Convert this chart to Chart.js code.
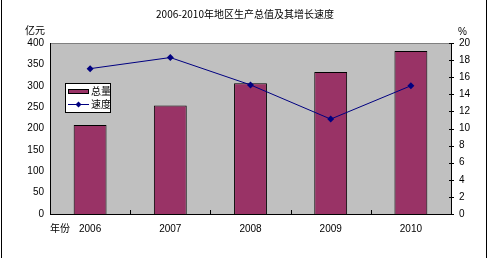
<!DOCTYPE html>
<html><head><meta charset="utf-8">
<script src="https://cdn.jsdelivr.net/npm/chart.js@4.4.0/dist/chart.umd.min.js"></script>
<style>html,body{margin:0;padding:0;background:#fff}#wrap{width:488px;height:258px}</style>
</head><body><div id="wrap"><canvas id="c" width="488" height="258"></canvas></div>
<script>
const categories = ["2006", "2007", "2008", "2009", "2010"];
const totalValues = [208, 254, 306, 332, 381];
const growthValues = [17.0, 18.3, 15.1, 11.1, 15.0];
const leftTicks = [0, 50, 100, 150, 200, 250, 300, 350, 400];
const rightTicks = [0, 2, 4, 6, 8, 10, 12, 14, 16, 18, 20];
const titleText = "2006-2010年地区生产总值及其增长速度";
const leftUnit = "亿元";
const rightUnit = "%";
const xUnit = "年份";

const FONT = "'Liberation Sans', Arial, 'Noto Sans CJK SC', sans-serif";
const CJK = "'Noto Sans CJK SC', sans-serif";
const BAR = "#993366", LINE = "#000080";

const deco = {
  id: "deco",
  beforeDraw(chart) {
    const {ctx, chartArea: a} = chart;
    ctx.save();
    ctx.fillStyle = "#fff";
    ctx.fillRect(0, 0, chart.width, chart.height);
    ctx.fillStyle = "#C0C0C0";
    ctx.fillRect(a.left, a.top, a.right - a.left, a.bottom - a.top);
    ctx.strokeStyle = "#808080";
    ctx.lineWidth = 1;
    ctx.beginPath();
    ctx.moveTo(a.left, a.top + 0.5); ctx.lineTo(a.right, a.top + 0.5);
    ctx.stroke();
    ctx.restore();
  },
  afterDraw(chart) {
    const {ctx, chartArea: a} = chart;
    const xs = chart.scales.x;
    ctx.save();
    ctx.strokeStyle = "#000"; ctx.lineWidth = 1;
    ctx.beginPath();
    ctx.moveTo(1.5, 0); ctx.lineTo(1.5, chart.height);
    ctx.moveTo(486.5, 0); ctx.lineTo(486.5, chart.height);
    ctx.stroke();
    ctx.beginPath();
    for (let i = 1; i < categories.length; i++) {
      const x = Math.round((xs.getPixelForValue(i - 1) + xs.getPixelForValue(i)) / 2) + 0.5;
      ctx.moveTo(x, a.bottom - 4); ctx.lineTo(x, a.bottom);
    }
    const yr = chart.scales.y1;
    rightTicks.forEach(v => {
      const y = Math.round(yr.getPixelForValue(v)) + 0.5;
      ctx.moveTo(a.right - 2, y); ctx.lineTo(a.right + 3, y);
    });
    ctx.stroke();
    ctx.fillStyle = "#000";
    ctx.textBaseline = "middle";
    ctx.textAlign = "center";
    ctx.font = "10px " + CJK;
    ctx.fillText(titleText, 245, 14);
    ctx.textAlign = "left";
    ctx.fillText(leftUnit, 25, 30);
    ctx.fillText(xUnit, 50, 228);
    ctx.font = "10px " + FONT;
    ctx.fillText(rightUnit, 458, 32);
    // legend
    const ds = chart.data.datasets;
    const barDs = ds.find(d => d.type === "bar");
    const lineDs = ds.find(d => d.type === "line");
    const lx = 65.5, ly = 83.5, lw = 45, lh = 29;
    ctx.fillStyle = "#fff";
    ctx.fillRect(lx, ly, lw, lh);
    ctx.strokeStyle = "#000";
    ctx.strokeRect(lx, ly, lw, lh);
    ctx.fillStyle = barDs.backgroundColor;
    ctx.fillRect(68, 89, 21, 5);
    ctx.strokeStyle = "#000";
    ctx.strokeRect(68.5, 89.5, 20, 4);
    ctx.strokeStyle = lineDs.borderColor;
    ctx.beginPath(); ctx.moveTo(68, 104.5); ctx.lineTo(89, 104.5); ctx.stroke();
    ctx.fillStyle = lineDs.borderColor;
    ctx.beginPath();
    ctx.moveTo(78.5, 101.5); ctx.lineTo(81.5, 104.5); ctx.lineTo(78.5, 107.5); ctx.lineTo(75.5, 104.5);
    ctx.closePath(); ctx.fill();
    ctx.fillStyle = "#000";
    ctx.font = "10px " + CJK;
    ctx.fillText(barDs.label, 91, 91.5);
    ctx.fillText(lineDs.label, 91, 104);
    ctx.restore();
  }
};

new Chart(document.getElementById("c"), {
  data: {
    labels: categories,
    datasets: [
      {
        type: "line", label: "速度", data: growthValues, yAxisID: "y1",
        borderColor: LINE, backgroundColor: LINE, borderWidth: 1,
        pointStyle: "rectRot", pointRadius: 3.5, pointBackgroundColor: LINE,
        pointBorderColor: LINE, pointBorderWidth: 0, tension: 0, order: 0
      },
      {
        type: "bar", label: "总量", data: totalValues, yAxisID: "y",
        backgroundColor: BAR, borderColor: "#000", borderWidth: 1,
        categoryPercentage: 1, barPercentage: 0.41, order: 1
      }
    ]
  },
  options: {
    responsive: false, animation: false,
    devicePixelRatio: 1,
    layout: { padding: { top: 43, left: 0, right: 0, bottom: 0 } },
    plugins: { legend: { display: false }, tooltip: { enabled: false }, title: { display: false } },
    scales: {
      x: {
        offset: true,
        grid: { display: false, drawTicks: false },
        border: { display: true, color: "#000", width: 1 },
        ticks: { color: "#000", font: { family: FONT, size: 10 }, padding: 9, maxRotation: 0 },
        afterFit(s) { s.height = 44; }
      },
      y: {
        position: "left", min: 0, max: 400,
        afterBuildTicks(s) { s.ticks = leftTicks.map(v => ({ value: v })); },
        grid: { display: false, drawTicks: false },
        border: { display: true, color: "#000", width: 1 },
        ticks: { color: "#000", font: { family: FONT, size: 10 }, padding: 6 },
        afterFit(s) { s.width = 50; }
      },
      y1: {
        position: "right", min: 0, max: 20,
        afterBuildTicks(s) { s.ticks = rightTicks.map(v => ({ value: v })); },
        grid: { display: false, drawTicks: false },
        border: { display: true, color: "#000", width: 1 },
        ticks: { color: "#000", font: { family: FONT, size: 10 }, padding: 8 },
        afterFit(s) { s.width = 37; }
      }
    }
  },
  plugins: [deco]
});
</script>
</body></html>
